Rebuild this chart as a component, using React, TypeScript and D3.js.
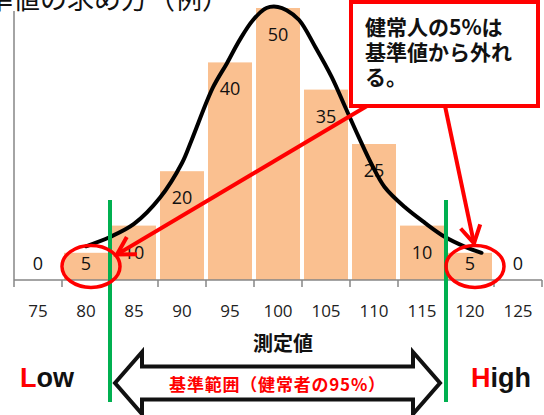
import React from 'react';
import * as d3 from 'd3';

// histogram of measured values (healthy people)
const categories = [75, 80, 85, 90, 95, 100, 105, 110, 115, 120, 125];
const counts = [0, 5, 10, 20, 40, 50, 35, 25, 10, 5, 0];

// hand drawn distribution curve
const curveX = [80, 82.5, 85, 87.7, 90, 91, 93.2, 94.7, 96, 97.4, 98.8, 100, 100.9, 102.2, 103.9, 105.6, 107, 108.4, 109.8, 111.1, 113.2, 115.3, 117.4, 119.5, 121.2];
const curveY = [6.2, 7.9, 10.3, 15.1, 21.5, 25.7, 35.3, 39.9, 44.1, 47.8, 50, 50.2, 49.6, 47.8, 42.8, 37.3, 31.8, 26.3, 21.1, 17.1, 13.4, 10.5, 7.9, 6.1, 5.0];

// reference range limits (2.5% / 97.5%)
const rangeLimits = [82.5, 117.5];
const outliers = [80, 120];

const title = '基準値の求め方（例）';
const xTitle = '測定値';
const noteLines = ['健常人の5%は', '基準値から外れ', 'る。'];
const rangeLabel = '基準範囲（健常者の95%）';

const W = 544, H = 415;
const plotLeft = 14, plotRight = 542, base = 280, plotTop = 8;

const RED = '#FF0000';
const GREEN = '#00B050';
const LATIN = '"Open Sans", "Liberation Sans", sans-serif';
const CJK = '"Noto Sans CJK JP", sans-serif';

// open "V" arrowhead at tip, pointing away from `from`
function arrowHead(tip: number[], from: number[], len = 20, spread = Math.PI / 6) {
  const a = Math.atan2(from[1] - tip[1], from[0] - tip[0]);
  const p1 = [tip[0] + len * Math.cos(a - spread), tip[1] + len * Math.sin(a - spread)];
  const p2 = [tip[0] + len * Math.cos(a + spread), tip[1] + len * Math.sin(a + spread)];
  return `M${p1[0]},${p1[1]}L${tip[0]},${tip[1]}L${p2[0]},${p2[1]}`;
}

export default function App() {
  const x = d3.scaleBand<number>()
    .domain(categories)
    .range([plotLeft, plotRight])
    .paddingInner(4 / 48)
    .paddingOuter(2 / 48);
  const xv = d3.scaleLinear().domain([72.5, 127.5]).range([plotLeft, plotRight]);
  const y = d3.scaleLinear().domain([0, 50]).range([base, plotTop]);

  const step = x.step();
  const tickPos = categories.map(c => x(c)! + x.bandwidth() / 2 - step / 2).concat([plotRight]);

  const line = d3.line<number>()
    .x((_, i) => xv(curveX[i]))
    .y(d => y(d))
    .curve(d3.curveCatmullRom.alpha(0.5));

  // annotation anchors
  const ell = outliers.map(v => [xv(v) + 5, y(2.5)]);
  const box = { x: 351, y: 2, w: 187, h: 104 };
  const leftTip = [ell[0][0] + 26, ell[0][1] - 12];
  const leftFrom = [box.x + 16, box.y + box.h];
  const rightTip = [ell[1][0] - 1, ell[1][1] - 23];
  const rightFrom = [box.x + 94, box.y + box.h];

  // double headed block arrow between the range limits
  const xl = xv(rangeLimits[0]) + 5, xr = xv(rangeLimits[1]) - 6;
  const cy = 383, head = 31, shaft = 16.5, hl = 27;
  const block = `M${xl},${cy}L${xl + hl},${cy - head}L${xl + hl},${cy - shaft}L${xr - hl},${cy - shaft}L${xr - hl},${cy - head}L${xr},${cy}L${xr - hl},${cy + head}L${xr - hl},${cy + shaft}L${xl + hl},${cy + shaft}L${xl + hl},${cy + head}Z`;

  return (
    <svg width={W} height={H} style={{ position: 'absolute', left: 0, top: 0, background: '#fff' }}>
      <text x={-41} y={9} fontFamily={CJK} fontSize={27} fill="#111">{title}</text>

      {/* bars */}
      {categories.map((c, i) => (
        <rect key={c} x={x(c)} y={y(counts[i])} width={x.bandwidth()} height={base - y(counts[i])} fill="#FAC090" />
      ))}

      {/* axes */}
      <line x1={plotLeft} x2={plotLeft} y1={11} y2={base} stroke="#868686" strokeWidth={1.5} />
      <line x1={plotLeft} x2={plotRight} y1={base} y2={base} stroke="#868686" strokeWidth={1.5} />
      {tickPos.map((t, i) => (
        <line key={i} x1={t} x2={t} y1={base} y2={base + 7} stroke="#868686" strokeWidth={1.5} />
      ))}
      {categories.map(c => (
        <text key={c} x={xv(c)} y={310} textAnchor="middle" dominantBaseline="central"
          fontFamily={LATIN} fontSize={17} fill="#222">{c}</text>
      ))}
      <text x={283} y={342} textAnchor="middle" dominantBaseline="central"
        fontFamily={CJK} fontSize={20} fontWeight="bold" fill="#111">{xTitle}</text>

      {/* value labels */}
      {categories.map((c, i) => (
        <text key={c} x={xv(c)} y={Math.min(y(counts[i]) + 26, 263)} textAnchor="middle" dominantBaseline="central"
          fontFamily={LATIN} fontSize={18} fill="#111">{counts[i]}</text>
      ))}

      {/* distribution curve */}
      <path d={line(curveY)!} fill="none" stroke="#000" strokeWidth={4} strokeLinecap="round" />

      {/* reference limits */}
      {rangeLimits.map(v => (
        <line key={v} x1={xv(v)} x2={xv(v)} y1={200} y2={402} stroke={GREEN} strokeWidth={4} />
      ))}

      {/* outlier circles */}
      {ell.map((p, i) => (
        <ellipse key={i} cx={p[0]} cy={p[1]} rx={29} ry={21} fill="none" stroke={RED} strokeWidth={3.5} />
      ))}

      {/* callout */}
      <line x1={leftFrom[0]} y1={leftFrom[1]} x2={leftTip[0]} y2={leftTip[1]} stroke={RED} strokeWidth={4} />
      <path d={arrowHead(leftTip, leftFrom)} fill="none" stroke={RED} strokeWidth={4} strokeLinejoin="miter" />
      <line x1={rightFrom[0]} y1={rightFrom[1]} x2={rightTip[0]} y2={rightTip[1]} stroke={RED} strokeWidth={4} />
      <path d={arrowHead(rightTip, rightFrom)} fill="none" stroke={RED} strokeWidth={4} strokeLinejoin="miter" />
      <rect x={box.x} y={box.y} width={box.w} height={box.h} fill="#fff" stroke={RED} strokeWidth={4} />
      {noteLines.map((t, i) => (
        <text key={i} x={365} y={35 + i * 25} fontFamily={CJK} fontSize={21} fontWeight="bold" fill="#111">{t}</text>
      ))}

      {/* Low / High */}
      <text x={20} y={387} fontFamily='"Liberation Sans", Arial, sans-serif' fontSize={27} fontWeight="bold" fill="#111">
        <tspan fill={RED}>L</tspan>ow
      </text>
      <text x={471} y={387} fontFamily='"Liberation Sans", Arial, sans-serif' fontSize={27} fontWeight="bold" fill="#111">
        <tspan fill={RED}>H</tspan>igh
      </text>

      {/* reference range arrow */}
      <path d={block} fill="#fff" stroke="#111" strokeWidth={4} strokeLinejoin="miter" />
      <text x={(xl + xr) / 2} y={cy} textAnchor="middle" dominantBaseline="central"
        fontFamily={CJK} fontSize={17} letterSpacing={0.8} fontWeight="bold" fill={RED}>{rangeLabel}</text>
    </svg>
  );
}
